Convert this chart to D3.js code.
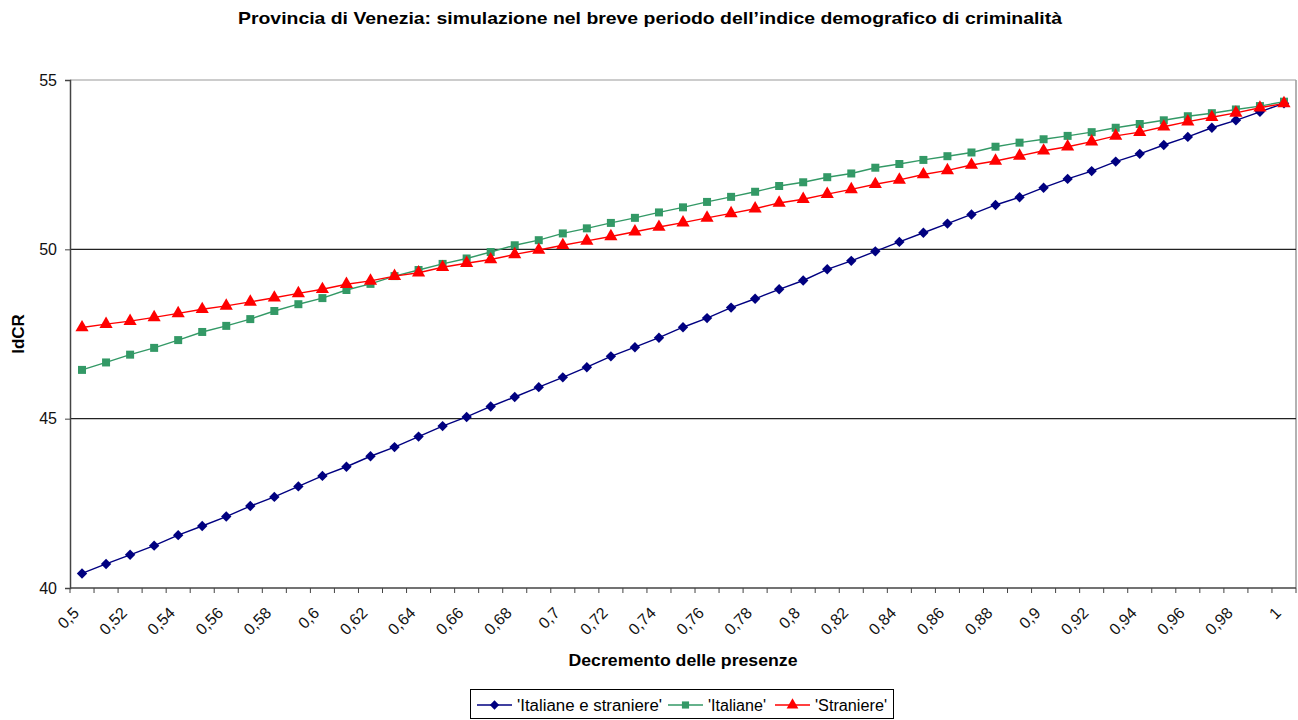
<!DOCTYPE html>
<html><head><meta charset="utf-8">
<script src="https://cdn.jsdelivr.net/npm/d3@7"></script>
<style>
html,body{margin:0;padding:0;background:#fff;}
svg{display:block;font-family:"Liberation Sans",Arial,sans-serif;}
</style></head>
<body>
<svg id="chart" width="1298" height="720"></svg>
<script>
const categories = [0.5,0.51,0.52,0.53,0.54,0.55,0.56,0.57,0.58,0.59,0.6,0.61,0.62,0.63,0.64,0.65,0.66,0.67,0.68,0.69,0.7,0.71,0.72,0.73,0.74,0.75,0.76,0.77,0.78,0.79,0.8,0.81,0.82,0.83,0.84,0.85,0.86,0.87,0.88,0.89,0.9,0.91,0.92,0.93,0.94,0.95,0.96,0.97,0.98,0.99,1];
const italianeStraniere = [40.43,40.71,40.98,41.25,41.56,41.83,42.11,42.42,42.69,43.00,43.31,43.58,43.89,44.16,44.47,44.78,45.05,45.36,45.64,45.93,46.22,46.52,46.84,47.11,47.39,47.70,47.97,48.28,48.54,48.82,49.08,49.41,49.66,49.94,50.22,50.49,50.76,51.03,51.31,51.54,51.82,52.08,52.31,52.59,52.82,53.08,53.32,53.59,53.81,54.06,54.31];
const italiane = [46.44,46.66,46.89,47.09,47.32,47.56,47.74,47.94,48.18,48.38,48.56,48.80,48.98,49.21,49.39,49.57,49.73,49.92,50.12,50.27,50.47,50.62,50.78,50.93,51.09,51.24,51.40,51.55,51.70,51.87,51.98,52.13,52.24,52.41,52.52,52.64,52.75,52.86,53.03,53.15,53.25,53.35,53.46,53.59,53.70,53.81,53.93,54.02,54.13,54.23,54.36];
const straniere = [47.69,47.79,47.88,47.99,48.11,48.23,48.33,48.45,48.57,48.70,48.82,48.97,49.07,49.21,49.31,49.47,49.59,49.70,49.85,49.98,50.12,50.25,50.38,50.52,50.66,50.79,50.93,51.06,51.20,51.37,51.48,51.63,51.77,51.92,52.05,52.21,52.33,52.49,52.61,52.76,52.91,53.03,53.18,53.35,53.46,53.62,53.77,53.90,54.03,54.18,54.31];
const xTickLabels = [0.5,0.52,0.54,0.56,0.58,0.6,0.62,0.64,0.66,0.68,0.7,0.72,0.74,0.76,0.78,0.8,0.82,0.84,0.86,0.88,0.9,0.92,0.94,0.96,0.98,1];
const yTicks = [40,45,50,55];
const seriesNames = ["'Italiane e straniere'","'Italiane'","'Straniere'"];
const title = "Provincia di Venezia: simulazione nel breve periodo dell\u2019indice demografico di criminalità";
const xTitle = "Decremento delle presenze";
const yTitle = "IdCR";

const svg = d3.select("#chart");
const L = 70, R = 1296, T = 80, B = 588;
const fmt = v => String(v).replace(".", ",");

const x = d3.scaleBand().domain(categories).range([L, R]).padding(0);
const cx = c => x(c) + x.bandwidth() / 2;
const y = d3.scaleLinear().domain([40, 55]).range([B, T]);

// plot border (right gray)
svg.append("line").attr("x1", R).attr("x2", R).attr("y1", T).attr("y2", B).attr("stroke", "#999").attr("stroke-width", 1.5);
// gridlines
svg.append("g").selectAll("line").data(yTicks.filter(v => v > 40)).join("line")
  .attr("x1", L).attr("x2", R).attr("y1", d => y(d)).attr("y2", d => y(d))
  .attr("stroke", d => d === 55 ? "#999" : "#222").attr("stroke-width", 1.2);

// y axis
const yAxis = d3.axisLeft(y).tickValues(yTicks).tickSize(5).tickPadding(8).tickFormat(d => d);
const gy = svg.append("g").attr("transform", `translate(${L},0)`).call(yAxis);
gy.select(".domain").attr("stroke", "#444").attr("stroke-width", 1.5);
gy.selectAll(".tick line").attr("stroke", "#444");
gy.selectAll("text").attr("font-size", 16).attr("fill", "#111").attr("font-family", "Liberation Sans, Arial, sans-serif");

// x axis line and tick marks at category boundaries
svg.append("line").attr("x1", L).attr("x2", R).attr("y1", B).attr("y2", B).attr("stroke", "#444").attr("stroke-width", 1.5);
const edges = categories.map(c => x(c)).concat([R]);
svg.append("g").selectAll("line").data(edges).join("line")
  .attr("x1", d => d).attr("x2", d => d).attr("y1", B).attr("y2", B + 5).attr("stroke", "#444");

// x tick labels (rotated)
svg.append("g").selectAll("text").data(xTickLabels).join("text")
  .attr("transform", d => `translate(${cx(d) - 6},${B + 22}) rotate(-45)`)
  .attr("text-anchor", "end").attr("dy", "0.35em")
  .attr("font-size", 16).attr("fill", "#111")
  .text(fmt);

// series
const diamond = {draw(ctx, size) { const r = Math.sqrt(size) / 2 * 1.3; ctx.moveTo(0, -r); ctx.lineTo(r, 0); ctx.lineTo(0, r); ctx.lineTo(-r, 0); ctx.closePath(); }};
const series = [
  {name: seriesNames[0], values: italianeStraniere, color: "#000080", marker: diamond, size: 64},
  {name: seriesNames[1], values: italiane, color: "#339966", marker: d3.symbolSquare, size: 64},
  {name: seriesNames[2], values: straniere, color: "#FF0000", marker: d3.symbolTriangle, size: 75}
];
const line = d3.line().x((d, i) => cx(categories[i])).y(d => y(d));
series.forEach(s => {
  svg.append("path").datum(s.values).attr("d", line)
    .attr("fill", "none").attr("stroke", s.color).attr("stroke-width", 1.4);
  svg.append("g").selectAll("path").data(s.values).join("path")
    .attr("transform", (d, i) => `translate(${cx(categories[i])},${y(d)})`)
    .attr("d", d3.symbol().type(s.marker).size(s.size))
    .attr("fill", s.color);
});

// titles
svg.append("text").attr("x", 650).attr("y", 24).attr("text-anchor", "middle")
  .attr("font-size", 17).attr("font-weight", "bold").attr("fill", "#000")
  .attr("textLength", 824).attr("lengthAdjust", "spacingAndGlyphs").text(title);
svg.append("text").attr("x", 683).attr("y", 666).attr("text-anchor", "middle")
  .attr("font-size", 17).attr("font-weight", "bold").attr("fill", "#000")
  .attr("textLength", 229).attr("lengthAdjust", "spacingAndGlyphs").text(xTitle);
svg.append("text").attr("transform", `translate(24,${(T + B) / 2}) rotate(-90)`).attr("text-anchor", "middle")
  .attr("font-size", 17).attr("font-weight", "bold").attr("fill", "#000").text(yTitle);

// legend
const lg = svg.append("g");
lg.append("rect").attr("x", 470.5).attr("y", 689.5).attr("width", 423).attr("height", 29)
  .attr("fill", "#fff").attr("stroke", "#000").attr("stroke-width", 1);
const legendItems = [
  {s: series[0], x0: 477, tx: 517, tw: 145},
  {s: series[1], x0: 668, tx: 708, tw: 58},
  {s: series[2], x0: 775, tx: 815, tw: 72}
];
legendItems.forEach(it => {
  const ly = 705;
  lg.append("line").attr("x1", it.x0).attr("x2", it.x0 + 35).attr("y1", ly).attr("y2", ly)
    .attr("stroke", it.s.color).attr("stroke-width", 1.5);
  lg.append("path").attr("transform", `translate(${it.x0 + 17.5},${ly})`)
    .attr("d", d3.symbol().type(it.s.marker).size(it.s.size * 0.8)).attr("fill", it.s.color);
  lg.append("text").attr("x", it.tx).attr("y", ly).attr("dy", "0.35em")
    .attr("font-size", 16).attr("fill", "#000")
    .attr("textLength", it.tw).attr("lengthAdjust", "spacingAndGlyphs").text(it.s.name);
});
</script>
</body></html>
